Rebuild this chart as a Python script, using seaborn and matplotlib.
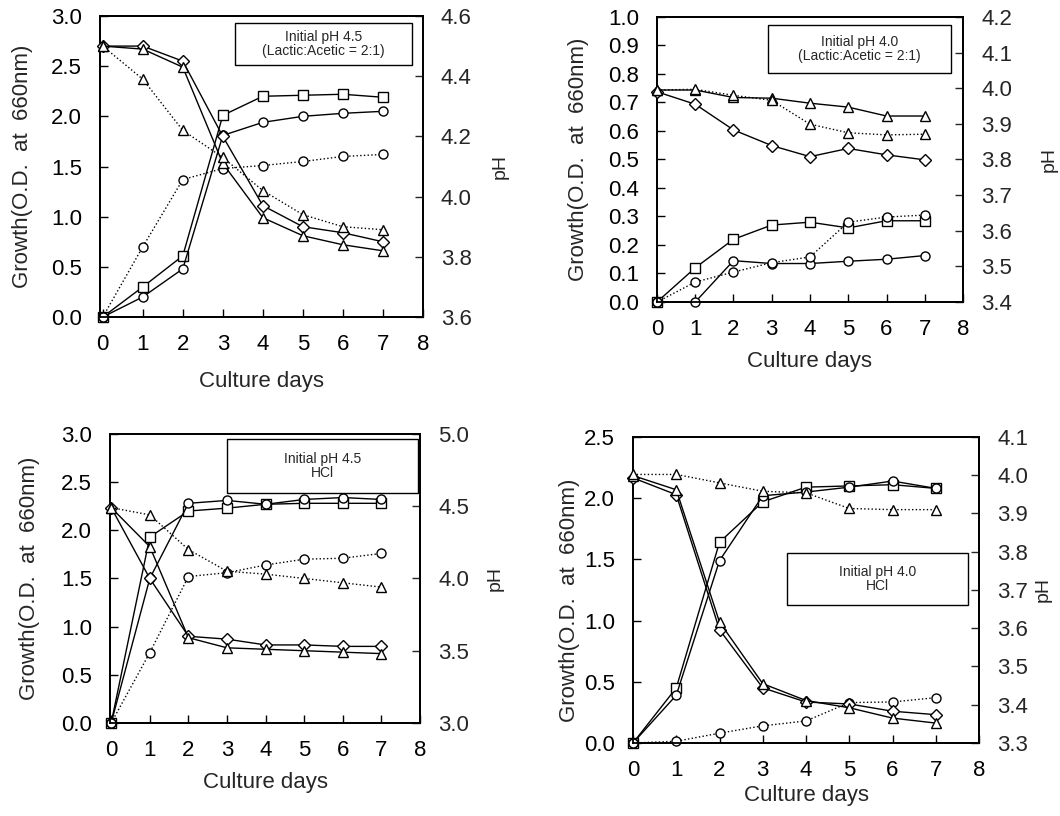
import matplotlib
matplotlib.use("Agg")
import matplotlib.pyplot as plt
from matplotlib.patches import Rectangle
from matplotlib.ticker import MultipleLocator, FormatStrFormatter
import seaborn as sns

sns.set_style("white")
plt.rcParams["font.family"] = ["Liberation Sans", "DejaVu Sans"]

days = [0, 1, 2, 3, 4, 5, 6, 7]

# Initial pH 4.5, lactic:acetic = 2:1
lac45_growth_sq = [0.00, 0.30, 0.61, 2.01, 2.20, 2.21, 2.22, 2.19]
lac45_growth_ci = [0.00, 0.20, 0.48, 1.81, 1.94, 2.00, 2.03, 2.05]
lac45_growth_cd = [0.00, 0.70, 1.37, 1.48, 1.51, 1.55, 1.60, 1.62]
lac45_ph_di = [4.50, 4.50, 4.45, 4.20, 3.97, 3.90, 3.88, 3.85]
lac45_ph_tr = [4.50, 4.49, 4.43, 4.11, 3.93, 3.87, 3.84, 3.82]
lac45_ph_td = [4.50, 4.39, 4.22, 4.13, 4.02, 3.94, 3.90, 3.89]

# Initial pH 4.0, lactic:acetic = 2:1
lac40_growth_sq = [0.00, 0.12, 0.22, 0.27, 0.28, 0.26, 0.285, 0.285]
lac40_growth_ci = [0.00, 0.00, 0.145, 0.135, 0.135, 0.143, 0.15, 0.163]
lac40_growth_cd = [0.00, 0.07, 0.105, 0.138, 0.158, 0.28, 0.298, 0.305]
lac40_ph_di = [3.99, 3.955, 3.883, 3.839, 3.808, 3.831, 3.813, 3.799]
lac40_ph_tr = [3.995, 3.995, 3.974, 3.972, 3.958, 3.947, 3.922, 3.922]
lac40_ph_td = [3.995, 3.997, 3.980, 3.966, 3.899, 3.875, 3.869, 3.871]

# Initial pH 4.5, HCl
hcl45_growth_sq = [0.00, 1.93, 2.20, 2.23, 2.27, 2.28, 2.28, 2.28]
hcl45_growth_ci = [0.00, 1.50, 2.28, 2.31, 2.27, 2.32, 2.34, 2.32]
hcl45_growth_cd = [0.00, 0.73, 1.52, 1.56, 1.64, 1.70, 1.71, 1.76]
hcl45_ph_di = [4.49, 4.00, 3.60, 3.58, 3.54, 3.54, 3.53, 3.53]
hcl45_ph_tr = [4.49, 4.22, 3.59, 3.52, 3.51, 3.50, 3.49, 3.48]
hcl45_ph_td = [4.49, 4.44, 4.20, 4.05, 4.03, 4.00, 3.97, 3.94]

# Initial pH 4.0, HCl
hcl40_growth_sq = [0.00, 0.45, 1.64, 1.97, 2.09, 2.10, 2.11, 2.08]
hcl40_growth_ci = [0.00, 0.39, 1.49, 2.02, 2.05, 2.09, 2.14, 2.08]
hcl40_growth_cd = [0.00, 0.014, 0.08, 0.14, 0.18, 0.33, 0.335, 0.37]
hcl40_ph_di = [3.993, 3.949, 3.596, 3.444, 3.407, 3.402, 3.383, 3.374]
hcl40_ph_tr = [3.999, 3.962, 3.616, 3.455, 3.411, 3.392, 3.365, 3.352]
hcl40_ph_td = [4.002, 4.002, 3.980, 3.958, 3.954, 3.913, 3.910, 3.910]

x_ticks = [0, 1, 2, 3, 4, 5, 6, 7, 8]
x_label = "Culture days"
growth_label = "Growth(O.D.  at  660nm)"
ph_label = "pH"

panels = [
    dict(rect=[0.0943, 0.6115, 0.3047, 0.3689], xlim=(-0.07, 8),
         growth=(lac45_growth_sq, lac45_growth_ci, lac45_growth_cd),
         ph=(lac45_ph_di, lac45_ph_tr, lac45_ph_td),
         gl=(0, 3.0), gstep=0.5, pl=(3.6, 4.6), pstep=0.2,
         box=(0.418, 0.837, 0.548, 0.140),
         text="Initial pH 4.5\n(Lactic:Acetic = 2:1)",
         glab=(-0.241, 0.5), plab=(1.238, 0.5), xpad=12),
    dict(rect=[0.6198, 0.6299, 0.2887, 0.3493], xlim=(0, 8),
         growth=(lac40_growth_sq, lac40_growth_ci, lac40_growth_cd),
         ph=(lac40_ph_di, lac40_ph_tr, lac40_ph_td),
         gl=(0, 1.0), gstep=0.1, pl=(3.4, 4.2), pstep=0.1,
         box=(0.363, 0.804, 0.598, 0.168),
         text="Initial pH 4.0\n(Lactic:Acetic = 2:1)",
         glab=(-0.258, 0.5), plab=(1.281, 0.5), xpad=8),
    dict(rect=[0.1038, 0.1140, 0.2925, 0.3542], xlim=(-0.03, 8),
         growth=(hcl45_growth_sq, hcl45_growth_ci, hcl45_growth_cd),
         ph=(hcl45_ph_di, hcl45_ph_tr, hcl45_ph_td),
         gl=(0, 3.0), gstep=0.5, pl=(3.0, 5.0), pstep=0.5,
         box=(0.377, 0.796, 0.617, 0.187),
         text="Initial pH 4.5\nHCl",
         glab=(-0.261, 0.5), plab=(1.242, 0.5), xpad=8),
    dict(rect=[0.5972, 0.0895, 0.3264, 0.3750], xlim=(0, 8),
         growth=(hcl40_growth_sq, hcl40_growth_ci, hcl40_growth_cd),
         ph=(hcl40_ph_di, hcl40_ph_tr, hcl40_ph_td),
         gl=(0, 2.5), gstep=0.5, pl=(3.3, 4.1), pstep=0.1,
         box=(0.445, 0.451, 0.523, 0.170),
         text="Initial pH 4.0\nHCl",
         glab=(-0.185, 0.467), plab=(1.185, 0.5), xpad=3),
]

fig = plt.figure(figsize=(10.6, 8.16), dpi=100)


def draw_series(ax, values, marker, ls):
    sns.lineplot(x=days, y=values, ax=ax, errorbar=None, color="black",
                 linestyle=ls, linewidth=1.0, marker=marker, markersize=6.5,
                 markerfacecolor="white", markeredgecolor="black",
                 markeredgewidth=1.0, clip_on=False, zorder=3)


for p in panels:
    ax = fig.add_axes(p["rect"])
    ax2 = ax.twinx()

    g_sq, g_ci, g_cd = p["growth"]
    draw_series(ax, g_sq, "s", "-")
    draw_series(ax, g_ci, "o", "-")
    draw_series(ax, g_cd, "o", ":")

    ph_di, ph_tr, ph_td = p["ph"]
    draw_series(ax2, ph_di, "D", "-")
    draw_series(ax2, ph_tr, "^", "-")
    draw_series(ax2, ph_td, "^", ":")

    ax.set_xlim(*p["xlim"])
    ax.set_ylim(*p["gl"])
    ax2.set_ylim(*p["pl"])
    ax.set_xticks(x_ticks)
    ax.yaxis.set_major_locator(MultipleLocator(p["gstep"]))
    ax2.yaxis.set_major_locator(MultipleLocator(p["pstep"]))
    ax.yaxis.set_major_formatter(FormatStrFormatter("%.1f"))
    ax2.yaxis.set_major_formatter(FormatStrFormatter("%.1f"))

    ax.tick_params(axis="both", direction="in", length=6, width=1,
                   labelsize=16, colors="black")
    ax.tick_params(axis="y", pad=13, left=True, right=False)
    ax.tick_params(axis="x", pad=12, bottom=True, top=False)
    ax2.tick_params(axis="y", direction="in", length=6, width=1,
                    labelsize=16, pad=13, right=True, left=False)

    for sp in ax.spines.values():
        sp.set_linewidth(1.3)
        sp.set_color("black")
    for sp in ax2.spines.values():
        sp.set_linewidth(1.3)
        sp.set_color("black")

    ax.set_xlabel(x_label, fontsize=16, labelpad=p["xpad"])
    ax.set_ylabel(growth_label, fontsize=16)
    ax.yaxis.set_label_coords(*p["glab"])
    ax.yaxis.label.set_verticalalignment("center")
    ax2.set_ylabel(ph_label, fontsize=14, rotation=90)
    ax2.yaxis.set_label_coords(*p["plab"])
    ax2.yaxis.label.set_verticalalignment("center")

    bx, by, bw, bh = p["box"]
    ax2.add_patch(Rectangle((bx, by), bw, bh, transform=ax.transAxes,
                            facecolor="white", edgecolor="black",
                            linewidth=1.0, zorder=5, clip_on=False))
    ax2.text(bx + bw / 2, by + bh / 2, p["text"], transform=ax.transAxes,
             ha="center", va="center", fontsize=10, linespacing=1.05,
             zorder=6)

fig.savefig("out.png", dpi=100)
